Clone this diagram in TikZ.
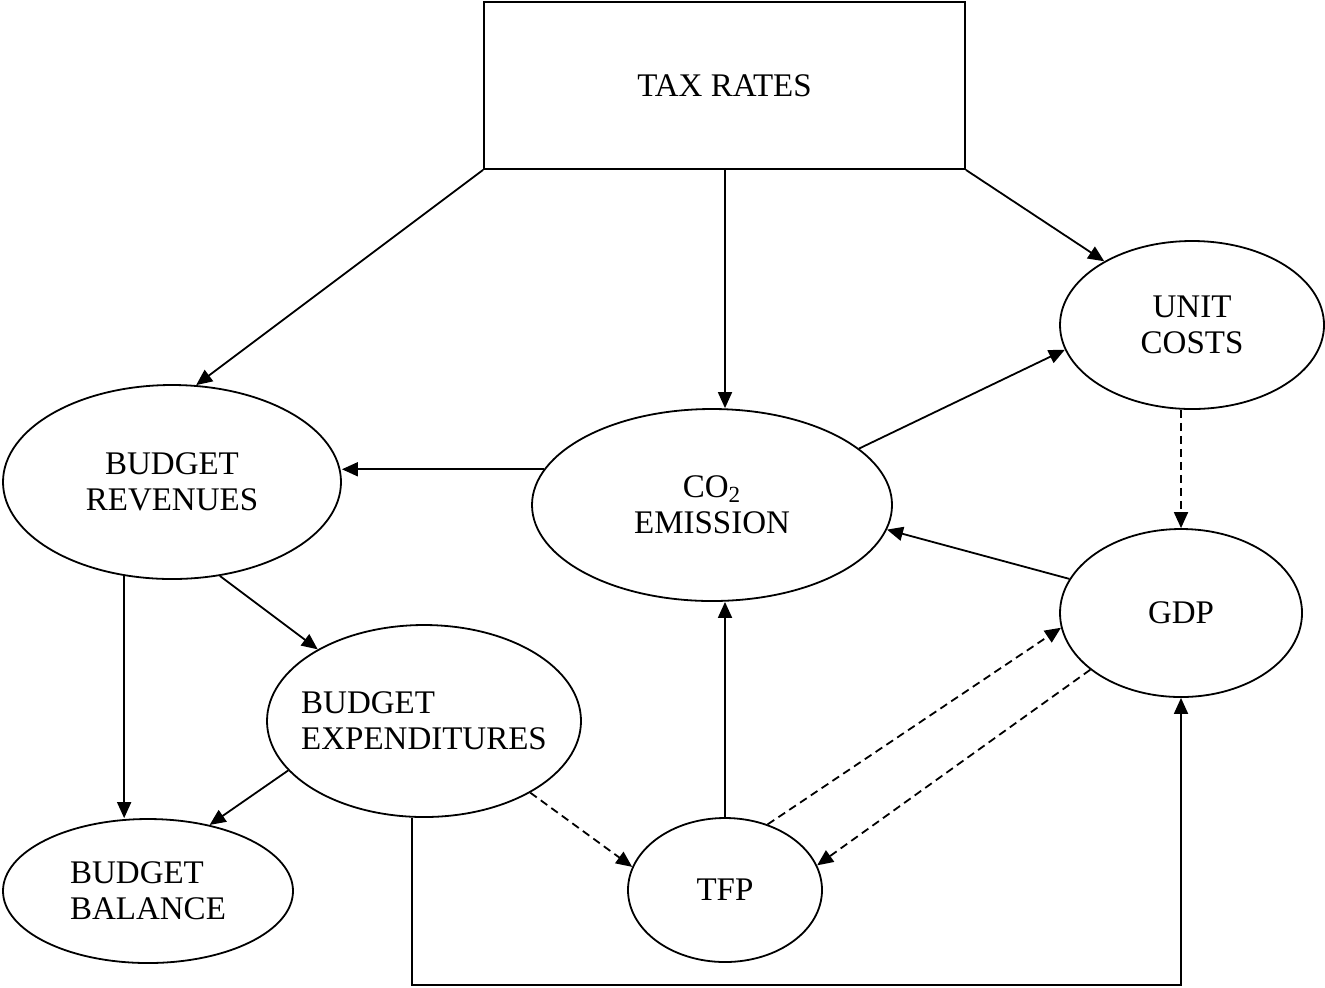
\documentclass[tikz,border=0pt]{standalone}
\usepackage{fontspec}
\setmainfont{Liberation Serif}
\usetikzlibrary{arrows.meta,shapes.geometric}

\begin{document}
\begin{tikzpicture}[
    x = 0.5pt, y = -0.5pt, % one unit per pixel, y grows downwards
    > = {Triangle[length=8pt,width=7pt]}, % arrow head style
    line width = 0.9pt, % line style
    font = \fontsize{16.5}{18}\selectfont
    ]

    \tikzset{
    blob/.style = {draw, ellipse, inner sep = 0pt, align = center},
    box/.style = {draw, rectangle, inner sep = 0pt},
    dashedline/.style = {dash pattern = on 4pt off 2.5pt}
    }

    \useasboundingbox (0,0) rectangle (1325,987);

    \node[box, minimum width = 240.5pt, minimum height = 83.5pt] (tax) at (724.5,85.5) {TAX RATES};
    \node[blob, minimum width = 132pt, minimum height = 84pt] (unit) at (1192,325) {UNIT\\COSTS};
    \node[blob, minimum width = 169pt, minimum height = 97pt] (rev) at (172,482) {BUDGET\\REVENUES};
    \node[blob, minimum width = 180pt, minimum height = 96pt] (co2) at (712,505) {CO\textsubscript{2}\\EMISSION};
    \node[blob, minimum width = 121pt, minimum height = 84pt] (gdp) at (1181,613) {GDP};
    \node[blob, align = left, inner sep = -7pt, minimum width = 157pt, minimum height = 96pt] (exp) at (424,721) {BUDGET\\EXPENDITURES};
    \node[blob, align = left, minimum width = 145pt, minimum height = 72pt] (bal) at (148,891) {BUDGET\\BALANCE};
    \node[blob, minimum width = 97pt, minimum height = 72pt] (tfp) at (725,890) {TFP};

    \path[->] (tax.south west) edge (rev.76)
              (tfp.north |- tax.south) edge (tfp.north |- co2.north)
              (tax.south east) edge (unit.144)
              (co2.168) edge (co2.168 -| rev.east)
              (co2.21) edge (unit.191)
              (gdp.163) edge (co2.-8)
              (tfp.north) edge (tfp.north |- co2.south)
              (rev.-117) edge (rev.-117 |- bal.north)
              (rev.-63) edge (exp.146)
              (exp.200) edge (bal.47);

    \path[->, dashedline] (gdp.north |- unit.south) edge (gdp.north)
              (tfp.57) edge (gdp.187)
              (gdp.212) edge (tfp.15)
              (exp.-34) edge (tfp.166);

    \coordinate (floor) at (0,985);
    \draw[->] (exp.-97) -- (exp.-97 |- floor) -| (gdp.south);
\end{tikzpicture}
\end{document}
